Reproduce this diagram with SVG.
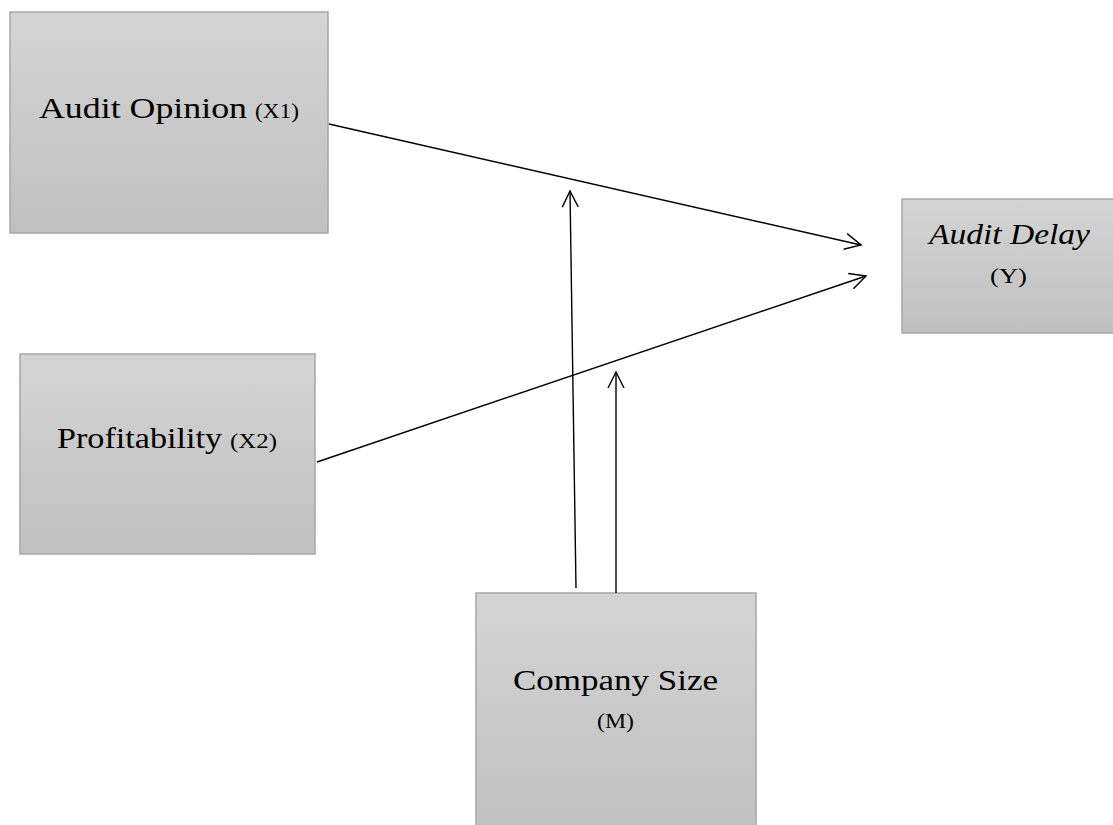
<svg xmlns="http://www.w3.org/2000/svg" width="1113" height="825" viewBox="0 0 1113 825">
<style>
.box{fill:url(#g);stroke:#a6a6a6;stroke-width:1.5}
.t{font-family:"Liberation Serif","DejaVu Serif",serif;fill:#000}
.big{font-size:30px}
.small{font-size:20px}
.c{fill:none;stroke:#000;stroke-width:1.4}
</style>
<defs>
<linearGradient id="g" x1="0" y1="0" x2="0" y2="1">
<stop offset="0" stop-color="#d4d4d4"/>
<stop offset="1" stop-color="#c0c0c0"/>
</linearGradient>
<marker id="a" viewBox="0 0 20 20" refX="18" refY="10" markerWidth="20" markerHeight="20" markerUnits="userSpaceOnUse" orient="auto">
<path d="M2,2 L18,10 L2,18" fill="none" stroke="#000" stroke-width="1.4"/>
</marker>
</defs>
<rect width="1113" height="825" fill="#fff"/>
<g id="x1">
<rect class="box" x="10" y="12" width="318" height="221"/>
<text class="t big" x="39" y="118" textLength="208" lengthAdjust="spacingAndGlyphs">Audit Opinion</text>
<text class="t small" x="255" y="118" textLength="44" lengthAdjust="spacingAndGlyphs">(X1)</text>
</g>
<g id="x2">
<rect class="box" x="20" y="354" width="295" height="200"/>
<text class="t big" x="57" y="448" textLength="165" lengthAdjust="spacingAndGlyphs">Profitability</text>
<text class="t small" x="230" y="448" textLength="47" lengthAdjust="spacingAndGlyphs">(X2)</text>
</g>
<g id="y">
<rect class="box" x="902" y="199" width="240" height="134"/>
<text class="t big" x="929" y="244" font-style="italic" textLength="161" lengthAdjust="spacingAndGlyphs">Audit Delay</text>
<text class="t small" x="990" y="283" textLength="37" lengthAdjust="spacingAndGlyphs">(Y)</text>
</g>
<g id="m">
<rect class="box" x="476" y="593" width="280" height="240"/>
<text class="t big" x="513" y="690" textLength="205" lengthAdjust="spacingAndGlyphs">Company Size</text>
<text class="t small" x="597" y="728" textLength="37" lengthAdjust="spacingAndGlyphs">(M)</text>
</g>
<g id="connectors">
<line class="c" x1="329" y1="124" x2="861" y2="245" marker-end="url(#a)"/>
<line class="c" x1="317" y1="462" x2="866" y2="276" marker-end="url(#a)"/>
<line class="c" x1="576" y1="588" x2="570" y2="191" marker-end="url(#a)"/>
<line class="c" x1="616" y1="593" x2="616" y2="372" marker-end="url(#a)"/>
</g>
</svg>
